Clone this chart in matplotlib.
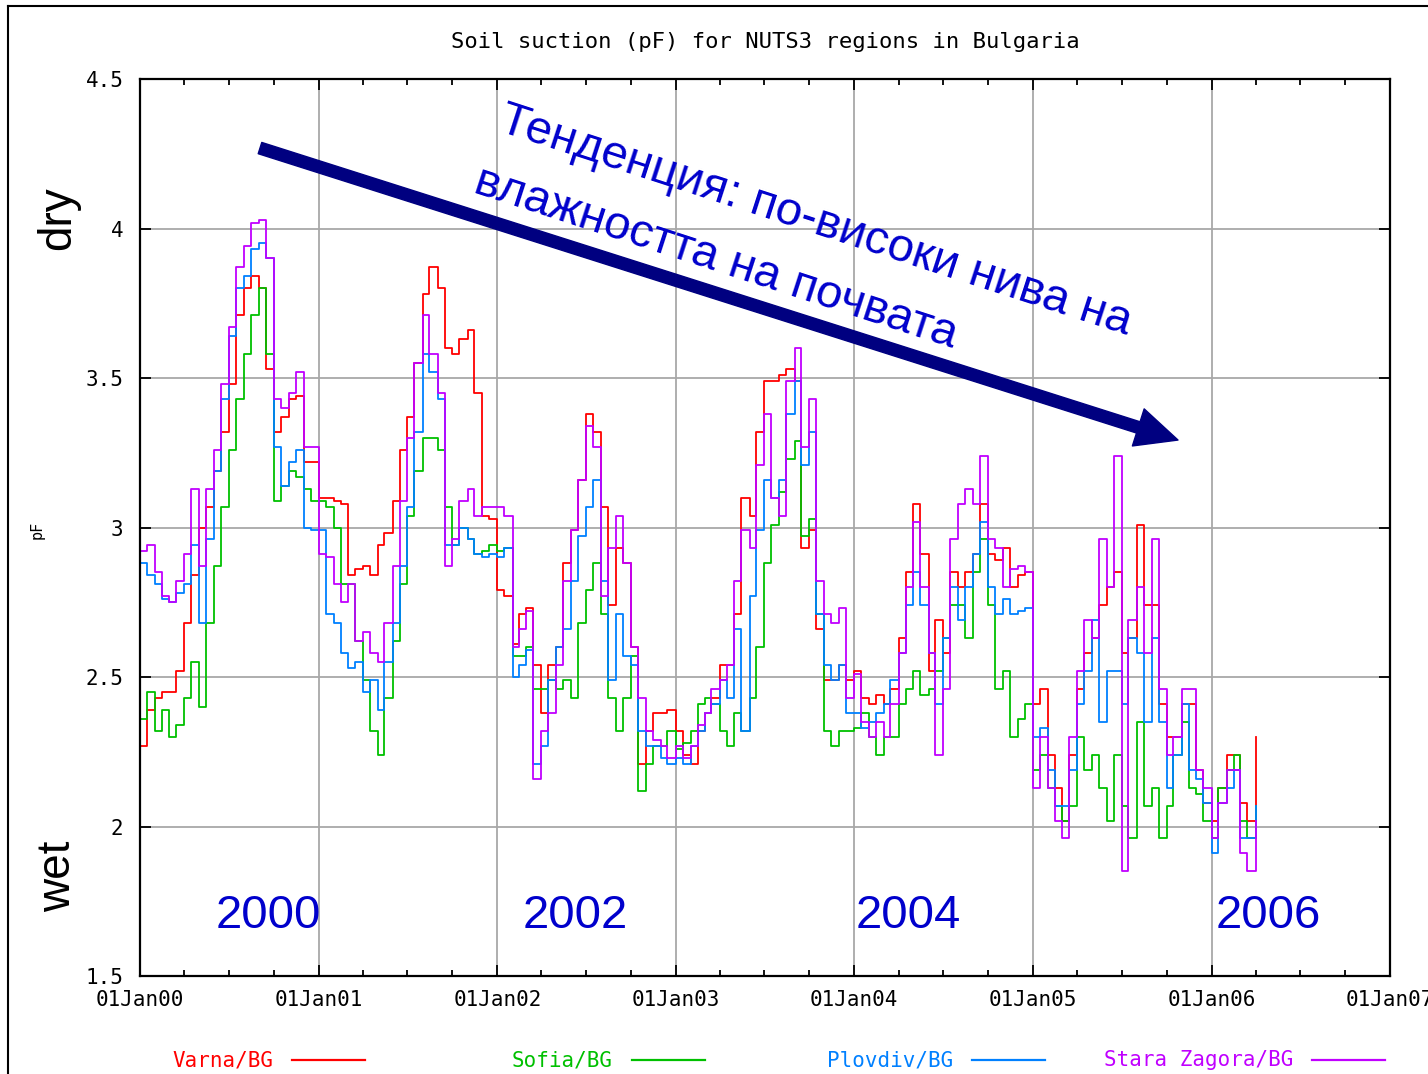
import matplotlib

matplotlib.use("Agg")
import matplotlib.dates as mdates
import matplotlib.pyplot as plt
import pandas as pd
from matplotlib.lines import Line2D

# semi-monthly soil suction values (pF), Jan 2000 .. mid Apr 2006
varna = [
    2.27, 2.39, 2.43, 2.45, 2.45, 2.52, 2.68, 2.84, 3.00, 3.07, 3.19, 3.32,
    3.48, 3.71, 3.80, 3.84, 3.80, 3.53, 3.32, 3.37, 3.43, 3.44, 3.22, 3.22,
    3.10, 3.10, 3.09, 3.08, 2.84, 2.86, 2.87, 2.84, 2.94, 2.98, 3.09, 3.26,
    3.37, 3.55, 3.78, 3.87, 3.80, 3.60, 3.58, 3.63, 3.66, 3.45, 3.04, 3.03,
    2.79, 2.77, 2.61, 2.71, 2.73, 2.54, 2.38, 2.54, 2.60, 2.88, 2.99, 3.16,
    3.38, 3.32, 3.07, 2.74, 2.93, 2.88, 2.60, 2.21, 2.32, 2.38, 2.38, 2.39,
    2.32, 2.24, 2.21, 2.32, 2.38, 2.43, 2.54, 2.54, 2.71, 3.10, 3.04, 3.32,
    3.49, 3.49, 3.51, 3.53, 3.49, 2.93, 2.99, 2.66, 2.49, 2.49, 2.54, 2.49,
    2.52, 2.43, 2.41, 2.44, 2.41, 2.46, 2.63, 2.85, 3.08, 2.91, 2.52, 2.69,
    2.58, 2.85, 2.80, 2.85, 2.91, 3.08, 2.91, 2.89, 2.93, 2.80, 2.84, 2.85,
    2.41, 2.46, 2.24, 2.13, 2.02, 2.24, 2.46, 2.58, 2.63, 2.74, 2.80, 2.85,
    2.58, 2.63, 3.01, 2.74, 2.74, 2.41, 2.30, 2.30, 2.41, 2.41, 2.19, 2.08,
    2.02, 2.13, 2.24, 2.24, 2.08, 2.02, 2.30,
]
sofia = [
    2.36, 2.45, 2.32, 2.39, 2.30, 2.34, 2.43, 2.55, 2.40, 2.68, 2.87, 3.07,
    3.26, 3.43, 3.58, 3.71, 3.80, 3.58, 3.09, 3.14, 3.19, 3.17, 3.13, 3.09,
    3.09, 3.07, 3.00, 2.81, 2.81, 2.62, 2.49, 2.32, 2.24, 2.43, 2.62, 2.81,
    3.04, 3.19, 3.30, 3.30, 3.26, 3.07, 2.94, 3.00, 2.96, 2.91, 2.92, 2.94,
    2.92, 2.93, 2.57, 2.57, 2.60, 2.46, 2.46, 2.49, 2.46, 2.49, 2.43, 2.68,
    2.79, 2.88, 2.71, 2.43, 2.32, 2.43, 2.57, 2.12, 2.21, 2.27, 2.27, 2.32,
    2.26, 2.28, 2.32, 2.41, 2.43, 2.41, 2.32, 2.27, 2.38, 2.32, 2.43, 2.60,
    2.88, 3.01, 3.12, 3.23, 3.29, 2.97, 3.03, 2.71, 2.32, 2.27, 2.32, 2.32,
    2.33, 2.38, 2.30, 2.24, 2.30, 2.30, 2.41, 2.46, 2.52, 2.44, 2.46, 2.52,
    2.63, 2.74, 2.74, 2.63, 2.85, 2.96, 2.74, 2.46, 2.52, 2.30, 2.36, 2.41,
    2.19, 2.24, 2.13, 2.07, 2.02, 2.07, 2.30, 2.19, 2.24, 2.13, 2.02, 2.24,
    2.07, 1.96, 2.35, 2.07, 2.13, 1.96, 2.07, 2.24, 2.35, 2.13, 2.11, 2.02,
    1.96, 2.13, 2.19, 2.24, 2.02, 1.96, 2.07,
]
plovdiv = [
    2.88, 2.84, 2.81, 2.76, 2.75, 2.78, 2.81, 2.94, 2.68, 2.96, 3.19, 3.43,
    3.64, 3.80, 3.84, 3.93, 3.95, 3.90, 3.27, 3.14, 3.22, 3.26, 3.00, 2.99,
    2.99, 2.71, 2.68, 2.58, 2.53, 2.55, 2.45, 2.49, 2.39, 2.55, 2.68, 2.87,
    3.07, 3.32, 3.58, 3.52, 3.43, 2.94, 2.94, 3.00, 2.96, 2.91, 2.90, 2.91,
    2.90, 2.93, 2.50, 2.54, 2.59, 2.21, 2.27, 2.49, 2.60, 2.66, 2.82, 2.97,
    3.07, 3.16, 2.82, 2.49, 2.71, 2.57, 2.54, 2.32, 2.27, 2.27, 2.23, 2.21,
    2.23, 2.21, 2.27, 2.32, 2.38, 2.41, 2.49, 2.43, 2.66, 2.32, 2.77, 2.99,
    3.16, 3.10, 3.16, 3.38, 3.49, 3.21, 3.32, 2.71, 2.54, 2.49, 2.54, 2.38,
    2.38, 2.33, 2.35, 2.38, 2.41, 2.49, 2.58, 2.74, 2.85, 2.74, 2.58, 2.41,
    2.63, 2.80, 2.69, 2.80, 2.91, 3.02, 2.80, 2.71, 2.76, 2.71, 2.72, 2.73,
    2.30, 2.33, 2.19, 2.07, 2.07, 2.19, 2.41, 2.52, 2.69, 2.35, 2.52, 2.52,
    2.41, 2.63, 2.58, 2.35, 2.63, 2.35, 2.13, 2.24, 2.41, 2.19, 2.16, 2.08,
    1.91, 2.08, 2.13, 2.19, 1.96, 1.96, 2.07,
]
stara_zagora = [
    2.92, 2.94, 2.85, 2.77, 2.75, 2.82, 2.91, 3.13, 2.87, 3.13, 3.26, 3.48,
    3.67, 3.87, 3.94, 4.02, 4.03, 3.90, 3.43, 3.40, 3.45, 3.52, 3.27, 3.27,
    2.91, 2.90, 2.81, 2.75, 2.81, 2.62, 2.65, 2.58, 2.55, 2.68, 2.87, 3.09,
    3.30, 3.55, 3.71, 3.58, 3.45, 2.87, 2.96, 3.09, 3.13, 3.04, 3.07, 3.07,
    3.07, 3.04, 2.60, 2.66, 2.72, 2.16, 2.32, 2.38, 2.54, 2.82, 2.99, 3.16,
    3.34, 3.27, 2.77, 2.93, 3.04, 2.88, 2.60, 2.43, 2.32, 2.29, 2.27, 2.23,
    2.27, 2.23, 2.27, 2.34, 2.38, 2.46, 2.49, 2.54, 2.82, 2.99, 2.93, 3.21,
    3.38, 3.10, 3.04, 3.49, 3.60, 3.27, 3.43, 2.82, 2.71, 2.68, 2.73, 2.43,
    2.51, 2.35, 2.30, 2.35, 2.30, 2.41, 2.58, 2.80, 3.02, 2.80, 2.58, 2.24,
    2.46, 2.96, 3.08, 3.13, 3.08, 3.24, 2.96, 2.93, 2.80, 2.86, 2.87, 2.85,
    2.13, 2.30, 2.13, 2.02, 1.96, 2.30, 2.52, 2.69, 2.63, 2.96, 2.80, 3.24,
    1.85, 2.69, 2.80, 2.58, 2.96, 2.46, 2.24, 2.30, 2.46, 2.46, 2.19, 2.13,
    1.96, 2.08, 2.19, 2.19, 1.91, 1.85, 2.02,
]

series_names = ["Varna/BG", "Sofia/BG", "Plovdiv/BG", "Stara Zagora/BG"]
series_colors = ["#ff0000", "#00c000", "#0080ff", "#c000ff"]
y_ticks = [1.5, 2, 2.5, 3, 3.5, 4, 4.5]
year_labels = ["2000", "2002", "2004", "2006"]

MONO = "DejaVu Sans Mono"
SANS = "Liberation Sans"
W, H = 1428, 1074


def fx(px):
    return px / W


def fy(py):
    return 1 - py / H


dates = pd.date_range("2000-01-01", periods=len(varna), freq="SMS")

fig = plt.figure(figsize=(W / 100, H / 100), dpi=100)
ax = fig.add_axes([fx(140), fy(976), fx(1390) - fx(140), fy(79) - fy(976)])

for values, color in zip([varna, sofia, plovdiv, stara_zagora], series_colors):
    ax.plot(dates, values, color=color, lw=1.3, drawstyle="steps-post")

ax.set_xlim(pd.Timestamp("2000-01-01"), pd.Timestamp("2007-01-01"))
ax.set_ylim(1.5, 4.5)
ax.xaxis.set_major_locator(mdates.YearLocator())
ax.xaxis.set_major_formatter(mdates.DateFormatter("%d%b%y"))
ax.xaxis.set_minor_locator(mdates.MonthLocator(bymonth=[4, 7, 10]))
ax.set_yticks(y_ticks)
ax.set_yticklabels([f"{t:g}" for t in y_ticks])

ax.grid(True, which="major", color="#a8a8a8", lw=1.3)
ax.set_axisbelow(True)
for sp in ax.spines.values():
    sp.set_linewidth(1.6)
ax.tick_params(which="major", direction="in", length=8, width=1.3,
               top=True, right=True, labelsize=15)
ax.tick_params(which="minor", direction="in", length=4, width=1.3,
               top=True, right=True)
ax.tick_params(axis="x", pad=10)
ax.tick_params(axis="y", pad=12)
for lab in ax.get_xticklabels() + ax.get_yticklabels():
    lab.set_family(MONO)

# title and axis words
fig.text(fx(765), fy(42), "Soil suction (pF) for NUTS3 regions in Bulgaria",
         family=MONO, size=16, ha="center", va="center")
fig.text(fx(37), fy(530), "pF", family=MONO, size=11, rotation=90,
         ha="center", va="center")
fig.text(fx(58), fy(218), "dry", family=SANS, size=33, rotation=90,
         ha="center", va="center")
fig.text(fx(58), fy(876), "wet", family=SANS, size=33, rotation=90,
         ha="center", va="center")

# year labels inside the plot
for label, px in zip(year_labels, [268, 575, 908, 1268]):
    fig.text(fx(px), fy(916), label, family=SANS, size=34, color="#0000cc",
             ha="center", va="center")

# trend arrow and text
ax.annotate("", xy=(0.8304, 0.5975), xytext=(0.096, 0.923),
            xycoords="axes fraction",
            arrowprops=dict(width=8.5, headwidth=28, headlength=30,
                            color="#000080", shrink=0))
fig.text(fx(497), fy(130), "Тенденция: по-високи нива на", family=SANS,
         size=34, color="#0000cc", rotation=-18, rotation_mode="anchor",
         ha="left", va="baseline")
fig.text(fx(472), fy(192), "влажността на почвата", family=SANS,
         size=34, color="#0000cc", rotation=-18, rotation_mode="anchor",
         ha="left", va="baseline")

# gnuplot-style key at the bottom
key_items = [(273, 292, 365), (613, 632, 705), (953, 972, 1045), (1293, 1312, 1385)]
for name, color, (tx, l0, l1) in zip(series_names, series_colors, key_items):
    fig.text(fx(tx), fy(1060), name, family=MONO, size=15, color=color,
             ha="right", va="center")
    fig.add_artist(Line2D([fx(l0), fx(l1)], [fy(1060), fy(1060)],
                          color=color, lw=1.6, transform=fig.transFigure))

# outer frame (only left and top visible in the crop)
fig.add_artist(Line2D([fx(8), fx(8)], [0, fy(6)], color="black", lw=1.5,
                      transform=fig.transFigure))
fig.add_artist(Line2D([fx(8), 1], [fy(6), fy(6)], color="black", lw=1.5,
                      transform=fig.transFigure))

fig.savefig("out.png", dpi=100)
